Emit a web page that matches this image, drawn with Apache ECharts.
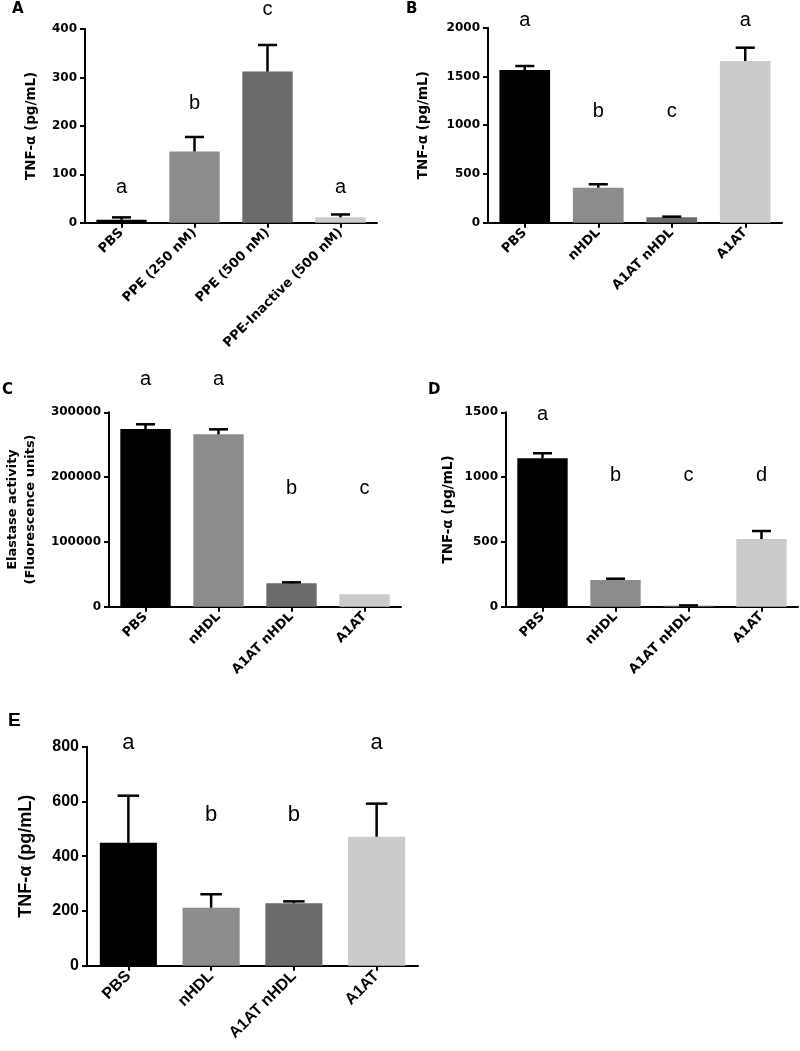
<!DOCTYPE html>
<html>
<head>
<meta charset="utf-8">
<script src="https://cdn.jsdelivr.net/npm/echarts@6/dist/echarts.min.js"></script>
<style>
html,body{margin:0;padding:0;background:#fff;}
#chart{width:800px;height:1051px;}
</style>
</head>
<body>
<div id="chart"></div>
<script>
// ---- Data ----
const catsA = ['PBS', 'PPE (250 nM)', 'PPE (500 nM)', 'PPE-Inactive (500 nM)'];
const meansA = [6, 147, 312, 11];
const errsA = [5, 30, 55, 6];
const lettersA = ['a', 'b', 'c', 'a'];
const letterLevelA = [73, 247, 440, 73];
const ticksA = {max: 400, interval: 100};

const catsB = ['PBS', 'nHDL', 'A1AT nHDL', 'A1AT'];
const meansB = [1566, 359, 55, 1658];
const errsB = [41, 35, 7, 137];
const lettersB = ['a', 'b', 'c', 'a'];
const letterLevelB = [2071, 1138, 1138, 2071];
const ticksB = {max: 2000, interval: 500};

const catsC = ['PBS', 'nHDL', 'A1AT nHDL', 'A1AT'];
const meansC = [274200, 266000, 36100, 19100];
const errsC = [7300, 7700, 1500, 0];
const lettersC = ['a', 'a', 'b', 'c'];
const letterLevelC = [351000, 351000, 182000, 182000];
const ticksC = {max: 300000, interval: 100000};

const catsD = ['PBS', 'nHDL', 'A1AT nHDL', 'A1AT'];
const meansD = [1145, 206, 8, 522];
const errsD = [39, 10, 2, 62];
const lettersD = ['a', 'b', 'c', 'd'];
const letterLevelD = [1483, 1016, 1016, 1016];
const ticksD = {max: 1500, interval: 500};

const catsE = ['PBS', 'nHDL', 'A1AT nHDL', 'A1AT'];
const meansE = [449, 212, 228, 471];
const errsE = [172, 49, 7, 121];
const lettersE = ['a', 'b', 'b', 'a'];
const letterLevelE = [812, 549, 549, 812];
const ticksE = {max: 800, interval: 200};

const barColors = ['#000000', '#8c8c8c', '#6b6b6b', '#cbcbcb'];

// ---- Build ----
const panels = [
  {tag: 'A', cats: catsA, means: meansA, errs: errsA, letters: lettersA, levels: letterLevelA, ticks: ticksA,
   grid: {left: 85, top: 29, width: 292, height: 193.7}, yName: 'TNF-α (pg/mL)', nameGap: 45,
   font: 'DejaVu Sans', tickSize: 12, xSize: 13, nameSize: 13.5, letterSize: 20, tagSize: 15, tagPos: [12, 2]},
  {tag: 'B', cats: catsB, means: meansB, errs: errsB, letters: lettersB, levels: letterLevelB, ticks: ticksB,
   grid: {left: 488, top: 27.7, width: 294, height: 195}, yName: 'TNF-α (pg/mL)', nameGap: 56,
   font: 'DejaVu Sans', tickSize: 12, xSize: 13, nameSize: 13.5, letterSize: 20, tagSize: 15, tagPos: [406, 2]},
  {tag: 'C', cats: catsC, means: meansC, errs: errsC, letters: lettersC, levels: letterLevelC, ticks: ticksC,
   grid: {left: 109, top: 412.3, width: 292, height: 194.4}, yName: 'Elastase activity\n(Fluorescence units)', nameGap: 70,
   nameLineHeight: 17.5,
   font: 'DejaVu Sans', tickSize: 12, xSize: 13, nameSize: 13, letterSize: 20, tagSize: 15, tagPos: [2, 383]},
  {tag: 'D', cats: catsD, means: meansD, errs: errsD, letters: lettersD, levels: letterLevelD, ticks: ticksD,
   grid: {left: 506, top: 412.3, width: 292, height: 194.4}, yName: 'TNF-α (pg/mL)', nameGap: 49,
   font: 'DejaVu Sans', tickSize: 12, xSize: 13, nameSize: 13.5, letterSize: 20, tagSize: 15, tagPos: [428, 383]},
  {tag: 'E', cats: catsE, means: meansE, errs: errsE, letters: lettersE, levels: letterLevelE, ticks: ticksE,
   grid: {left: 87, top: 746.7, width: 331, height: 219}, yName: 'TNF-α (pg/mL)', nameGap: 50,
   font: 'Liberation Sans', tickSize: 16, xSize: 16, nameSize: 18, letterSize: 22, tagSize: 19, tagPos: [8, 711]}
];

const option = {
  animation: false,
  backgroundColor: '#fff',
  grid: [], xAxis: [], yAxis: [], series: [], title: []
};

panels.forEach((p, i) => {
  option.grid.push(Object.assign({outerBoundsMode: 'none', containLabel: false}, p.grid));
  option.title.push({
    text: p.tag, left: p.tagPos[0], top: p.tagPos[1], padding: 0,
    textStyle: {fontFamily: p.font, fontWeight: 'bold', fontSize: p.tagSize, color: '#000'}
  });
  option.xAxis.push({
    type: 'category', gridIndex: i, data: p.cats, boundaryGap: true,
    axisLine: {show: true, lineStyle: {color: '#000', width: 2}},
    axisTick: {show: true, alignWithLabel: true, length: 5, lineStyle: {color: '#000', width: 2}},
    axisLabel: {interval: 0, rotate: 45, margin: 8, color: '#000', fontFamily: p.font, fontWeight: 'bold', fontSize: p.xSize},
    splitLine: {show: false}
  });
  option.yAxis.push({
    type: 'value', gridIndex: i, min: 0, max: p.ticks.max, interval: p.ticks.interval,
    name: p.yName, nameLocation: 'middle', nameGap: p.nameGap, nameRotate: 90,
    nameTextStyle: {fontFamily: p.font, fontWeight: 'bold', fontSize: p.nameSize, color: '#000',
      lineHeight: p.nameLineHeight || p.nameSize * 1.2, align: 'center'},
    axisLine: {show: true, lineStyle: {color: '#000', width: 2}},
    axisTick: {show: true, length: 5, lineStyle: {color: '#000', width: 2}},
    axisLabel: {margin: 8, color: '#000', fontFamily: p.font, fontWeight: 'bold', fontSize: p.tickSize,
      formatter: v => String(v)},
    splitLine: {show: false}
  });
  option.series.push({
    type: 'bar', xAxisIndex: i, yAxisIndex: i, barWidth: '69%',
    data: p.means.map((v, k) => ({value: v, itemStyle: {color: barColors[k]}})),
    z: 2
  });
  option.series.push({
    type: 'custom', xAxisIndex: i, yAxisIndex: i, z: 3,
    data: p.means.map((v, k) => [k, v, v + p.errs[k]]),
    encode: {x: 0, y: [1, 2]},
    renderItem: (params, api) => {
      const c = api.value(0);
      const p0 = api.coord([c, api.value(1)]);
      const p1 = api.coord([c, api.value(2)]);
      const hw = api.size([1, 0])[0] * 0.13;
      if (api.value(2) - api.value(1) <= 0) return null;
      return {
        type: 'group',
        children: [
          {type: 'line', shape: {x1: p0[0], y1: p0[1], x2: p1[0], y2: p1[1]}, style: {stroke: '#000', lineWidth: 2.5}},
          {type: 'line', shape: {x1: p1[0] - hw, y1: p1[1], x2: p1[0] + hw, y2: p1[1]}, style: {stroke: '#000', lineWidth: 2.5}}
        ]
      };
    }
  });
  option.series.push({
    type: 'scatter', xAxisIndex: i, yAxisIndex: i, symbolSize: 0, clip: false, silent: true,
    data: p.levels.map((v, k) => [k, v]),
    label: {
      show: true, position: 'inside', color: '#000', textBorderWidth: 0, opacity: 1,
      fontFamily: 'Liberation Sans', fontSize: p.letterSize,
      formatter: (prm) => p.letters[prm.dataIndex]
    }
  });
});

const chart = echarts.init(document.getElementById('chart'), null, {renderer: 'canvas'});
chart.setOption(option);
</script>
</body>
</html>
